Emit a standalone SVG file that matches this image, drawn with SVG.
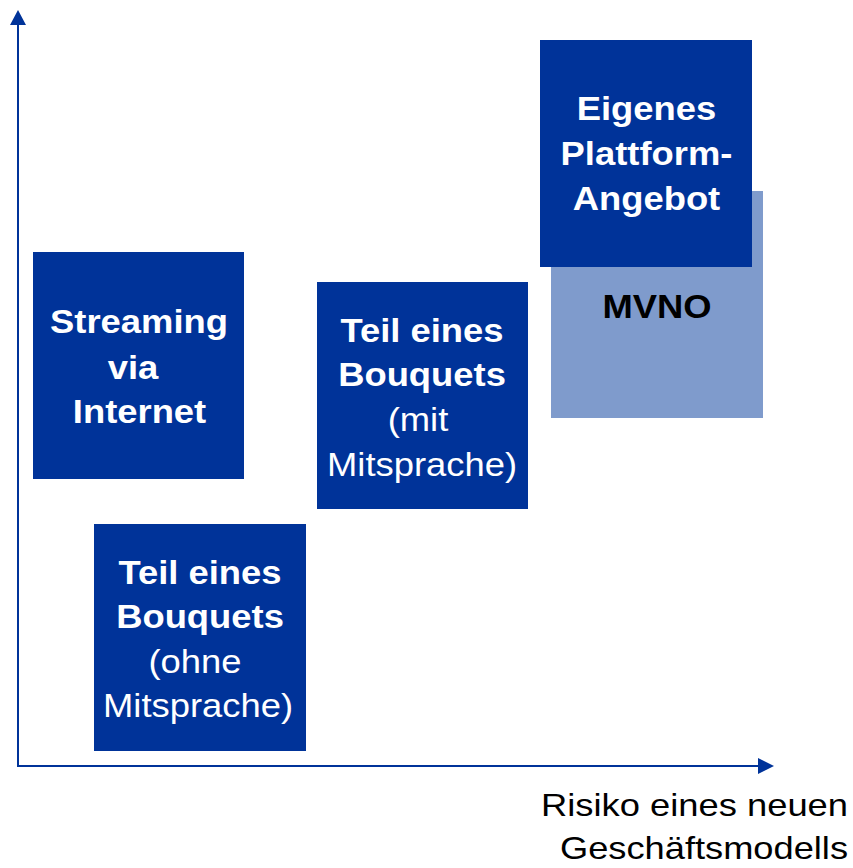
<svg xmlns="http://www.w3.org/2000/svg" width="853" height="868" viewBox="0 0 853 868">
<style>
.dark{fill:#003399}
.light{fill:#7f9bcc}
.b{font-family:"Liberation Sans",Arial,sans-serif;font-size:34px;font-weight:bold;text-anchor:middle}
.r{font-family:"Liberation Sans",Arial,sans-serif;font-size:34px;text-anchor:middle}
.w{fill:#ffffff}
.k{fill:#000000}
.axis{stroke:#003399;stroke-width:2;fill:none}
</style>
<rect width="853" height="868" fill="#ffffff"/>
<g id="axes">
<line class="axis" x1="18" y1="767" x2="18" y2="22"/>
<polygon points="18,10 10,25 26,25" fill="#003399"/>
<line class="axis" x1="17" y1="766" x2="760" y2="766"/>
<polygon points="774,766 758,758 758,774" fill="#003399"/>
</g>
<g id="streaming">
<rect class="dark" x="33" y="252" width="211" height="227"/>
<text class="b w" transform="translate(139,0) scale(1.07,1)"><tspan x="0" y="333">Streaming</tspan></text>
<text class="b w" transform="translate(133,0) scale(1.07,1)"><tspan x="0" y="379">via</tspan></text>
<text class="b w" transform="translate(139.5,0) scale(1.07,1)"><tspan x="0" y="423">Internet</tspan></text>
</g>
<g id="bouquet-ohne">
<rect class="dark" x="94" y="524" width="212" height="227"/>
<text class="b w" transform="translate(200,0) scale(1.07,1)"><tspan x="0" y="584">Teil eines</tspan><tspan x="0" y="628">Bouquets</tspan></text>
<text class="r w" transform="translate(195,0) scale(1.07,1)"><tspan x="0" y="673">(ohne</tspan></text>
<text class="r w" transform="translate(198,0) scale(1.07,1)"><tspan x="0" y="717">Mitsprache)</tspan></text>
</g>
<g id="bouquet-mit">
<rect class="dark" x="317" y="282" width="211" height="227"/>
<text class="b w" transform="translate(422,0) scale(1.07,1)"><tspan x="0" y="342">Teil eines</tspan><tspan x="0" y="386">Bouquets</tspan></text>
<text class="r w" transform="translate(418,0) scale(1.07,1)"><tspan x="0" y="431">(mit</tspan></text>
<text class="r w" transform="translate(422,0) scale(1.07,1)"><tspan x="0" y="476">Mitsprache)</tspan></text>
</g>
<g id="mvno">
<rect class="light" x="551" y="191" width="212" height="227"/>
<text class="b k" transform="translate(657,0) scale(1.07,1)"><tspan x="0" y="318">MVNO</tspan></text>
</g>
<g id="plattform">
<rect class="dark" x="540" y="40" width="212" height="227"/>
<text class="b w" transform="translate(646.5,0) scale(1.07,1)"><tspan x="0" y="120">Eigenes</tspan><tspan x="0" y="165">Plattform-</tspan><tspan x="0" y="210">Angebot</tspan></text>
</g>
<g id="axis-label">
<text class="r k" style="text-anchor:end;font-size:32px" x="848" y="816" textLength="307" lengthAdjust="spacingAndGlyphs">Risiko eines neuen</text>
<text class="r k" style="text-anchor:end;font-size:32px" x="848" y="859" textLength="288" lengthAdjust="spacingAndGlyphs">Geschäftsmodells</text>
</g>
</svg>
